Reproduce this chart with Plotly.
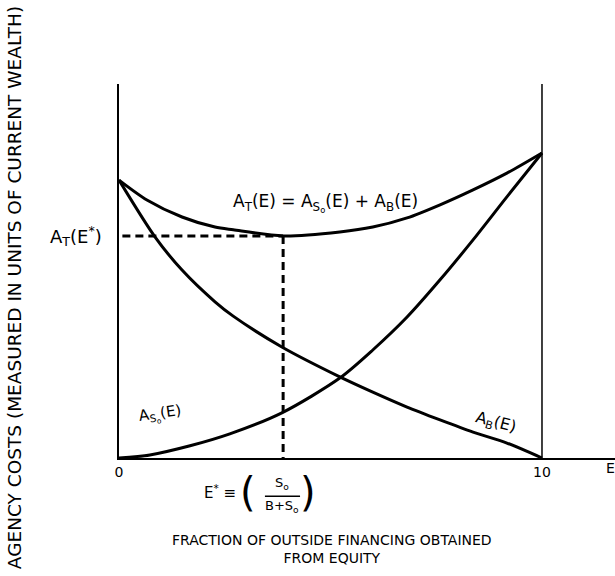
import plotly.graph_objects as go

# ---- data (E = fraction of outside financing from equity) ----
E_B = [0.0, 0.085, 0.149, 0.227, 0.270, 0.385, 0.522, 0.600, 0.681, 0.759, 0.837, 0.917, 1.0]
A_B = [0.911, 0.725, 0.616, 0.512, 0.465, 0.364, 0.266, 0.216, 0.167, 0.125, 0.085, 0.049, 0.0]

E_S = [0.0, 0.073, 0.168, 0.262, 0.385, 0.522, 0.600, 0.681, 0.759, 0.837, 0.917, 1.0]
A_S = [0.0, 0.010, 0.040, 0.079, 0.148, 0.262, 0.354, 0.462, 0.584, 0.715, 0.856, 1.0]

E_T = [0.0, 0.066, 0.149, 0.227, 0.270, 0.388, 0.522, 0.600, 0.681, 0.759, 0.837, 0.917, 1.0]
A_T = [0.911, 0.846, 0.790, 0.757, 0.748, 0.728, 0.741, 0.757, 0.787, 0.830, 0.879, 0.934, 1.0]

x_tick_vals = [0, 1]
x_tick_text = ["0", "10"]

# optimum from the total-cost curve
i_min = min(range(len(A_T)), key=lambda i: A_T[i])
E_star = E_T[i_min]
AT_star = A_T[i_min]

X_MAX = 1.1726
Y_MAX = 1.226
FONT = "DejaVu Sans"

fig = go.Figure()
line_style = dict(color="black", width=3, shape="spline", smoothing=0.8)
fig.add_trace(go.Scatter(x=E_B, y=A_B, mode="lines", line=line_style, name="A_B(E)"))
fig.add_trace(go.Scatter(x=E_S, y=A_S, mode="lines", line=line_style, name="A_So(E)"))
fig.add_trace(go.Scatter(x=E_T, y=A_T, mode="lines", line=line_style, name="A_T(E)"))

dash = dict(color="black", width=3, dash="8px,5px")
fig.add_trace(go.Scatter(x=[0.008, E_star], y=[AT_star, AT_star], mode="lines", line=dash))
fig.add_trace(go.Scatter(x=[E_star, E_star], y=[AT_star, 0], mode="lines", line=dash))

# right-hand boundary at E = 1
fig.add_shape(type="line", x0=1, x1=1, y0=0, y1=Y_MAX + 0.005, xref="x", yref="y",
              line=dict(color="black", width=1.5))

def ann(text, x, y, size=15, xanchor="center", angle=0, yanchor="middle"):
    # x, y given in data units; placed in paper units so they can sit outside the axes
    fig.add_annotation(text=text, x=x / X_MAX, y=y / Y_MAX, xref="paper", yref="paper",
                       showarrow=False, xanchor=xanchor, yanchor=yanchor, textangle=angle,
                       font=dict(family=FONT, size=size, color="black"))

ann("A<sub>T</sub>(E) = A<sub>S<sub>o</sub></sub>(E) + A<sub>B</sub>(E)", 0.489, 0.836, size=17)
ann("A<sub>T</sub>(E<sup>*</sup>)", -0.035, AT_star, size=18, xanchor="right")
ann("A<sub>S<sub>o</sub></sub>(E)", 0.097, 0.141, size=15, angle=-8)
ann("A<sub>B</sub>(E)", 0.889, 0.115, size=16, angle=15)
ann("E", 1.161, -0.033, size=14)

# E* definition under the axis
ann("E<sup>*</sup> ≡", 0.238, -0.111, size=15)
ann("(", 0.305, -0.113, size=40)
ann(")", 0.446, -0.113, size=40)
ann("S<sub>o</sub>", 0.386, -0.085, size=13)
ann("B+S<sub>o</sub>", 0.386, -0.158, size=13)
fig.add_shape(type="line", x0=0.345 / X_MAX, x1=0.428 / X_MAX, y0=-0.125 / Y_MAX, y1=-0.125 / Y_MAX,
              xref="paper", yref="paper", line=dict(color="black", width=1.5))

# axis titles
ann("FRACTION OF OUTSIDE FINANCING OBTAINED<br>FROM EQUITY", 0.504, -0.298, size=14)
ann("AGENCY COSTS (MEASURED IN UNITS OF CURRENT WEALTH)", -0.248, 0.557, size=18.5, angle=-90)

fig.update_layout(
    width=615, height=576,
    margin=dict(l=119, r=0, t=84, b=118),
    paper_bgcolor="white", plot_bgcolor="white",
    showlegend=False,
    xaxis=dict(range=[0, X_MAX], showgrid=False, zeroline=False, showline=True,
               linecolor="black", linewidth=1.5, tickvals=x_tick_vals, ticktext=x_tick_text,
               ticks="", tickfont=dict(family=FONT, size=14, color="black")),
    yaxis=dict(range=[0, Y_MAX], showgrid=False, zeroline=False, showline=True,
               linecolor="black", linewidth=1.5, showticklabels=False, ticks=""),
)

fig.write_html("out.html", config={"displayModeBar": False})
with open("out.html", "r", encoding="utf-8") as f:
    html = f.read()
html = html.replace("<body>", '<body style="margin:0">', 1)
with open("out.html", "w", encoding="utf-8") as f:
    f.write(html)
